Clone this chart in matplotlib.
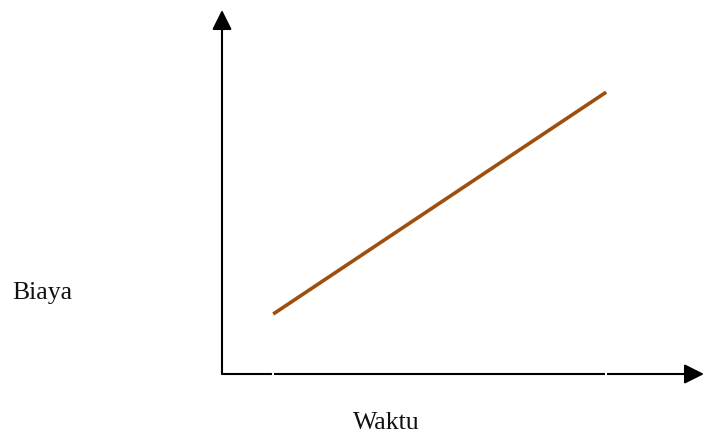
import matplotlib
matplotlib.use("Agg")
import matplotlib.pyplot as plt

# data: cost rising linearly with time
waktu = [1.0, 7.5]
biaya = [1.0, 4.7]
x_max = 9.41
y_max = 6.07

W, H = 704, 434
fig = plt.figure(figsize=(W / 100, H / 100), dpi=100)
fig.patch.set_facecolor("white")

# axes origin at pixel (222, 374) measured from top-left
x0, y0 = 222, 374
ax = fig.add_axes([x0 / W, (H - y0) / H, (W - x0) / W, (y0 - 10) / H])
ax.set_xlim(0, x_max)
ax.set_ylim(0, y_max)
ax.axis("off")

ax.plot(waktu, biaya, color="#A04E0C", lw=2.6, solid_capstyle="butt", zorder=3)

arrow = dict(arrowstyle="-|>,head_length=0.6,head_width=0.3", mutation_scale=20,
             lw=1.5, color="black", shrinkA=0, shrinkB=0)
ax.annotate("", xy=(1, 0), xytext=(0, 0), xycoords="axes fraction",
            textcoords="axes fraction", arrowprops=arrow, annotation_clip=False)
ax.annotate("", xy=(0, 1), xytext=(0, 0), xycoords="axes fraction",
            textcoords="axes fraction", arrowprops=arrow, annotation_clip=False)

# small white gaps in the x axis at the line's start and end
ax.plot(waktu, [0, 0], ls="none", marker="|", ms=5, mew=1.5, color="white",
        clip_on=False, zorder=5)

font = dict(family="Liberation Serif", fontsize=18.5, color="#111111")
fig.text(12 / W, 1 - 299 / H, "Biaya", ha="left", va="baseline", **font)
fig.text(386 / W, 1 - 429 / H, "Waktu", ha="center", va="baseline", **font)

fig.savefig("out.png", dpi=100, facecolor="white")
